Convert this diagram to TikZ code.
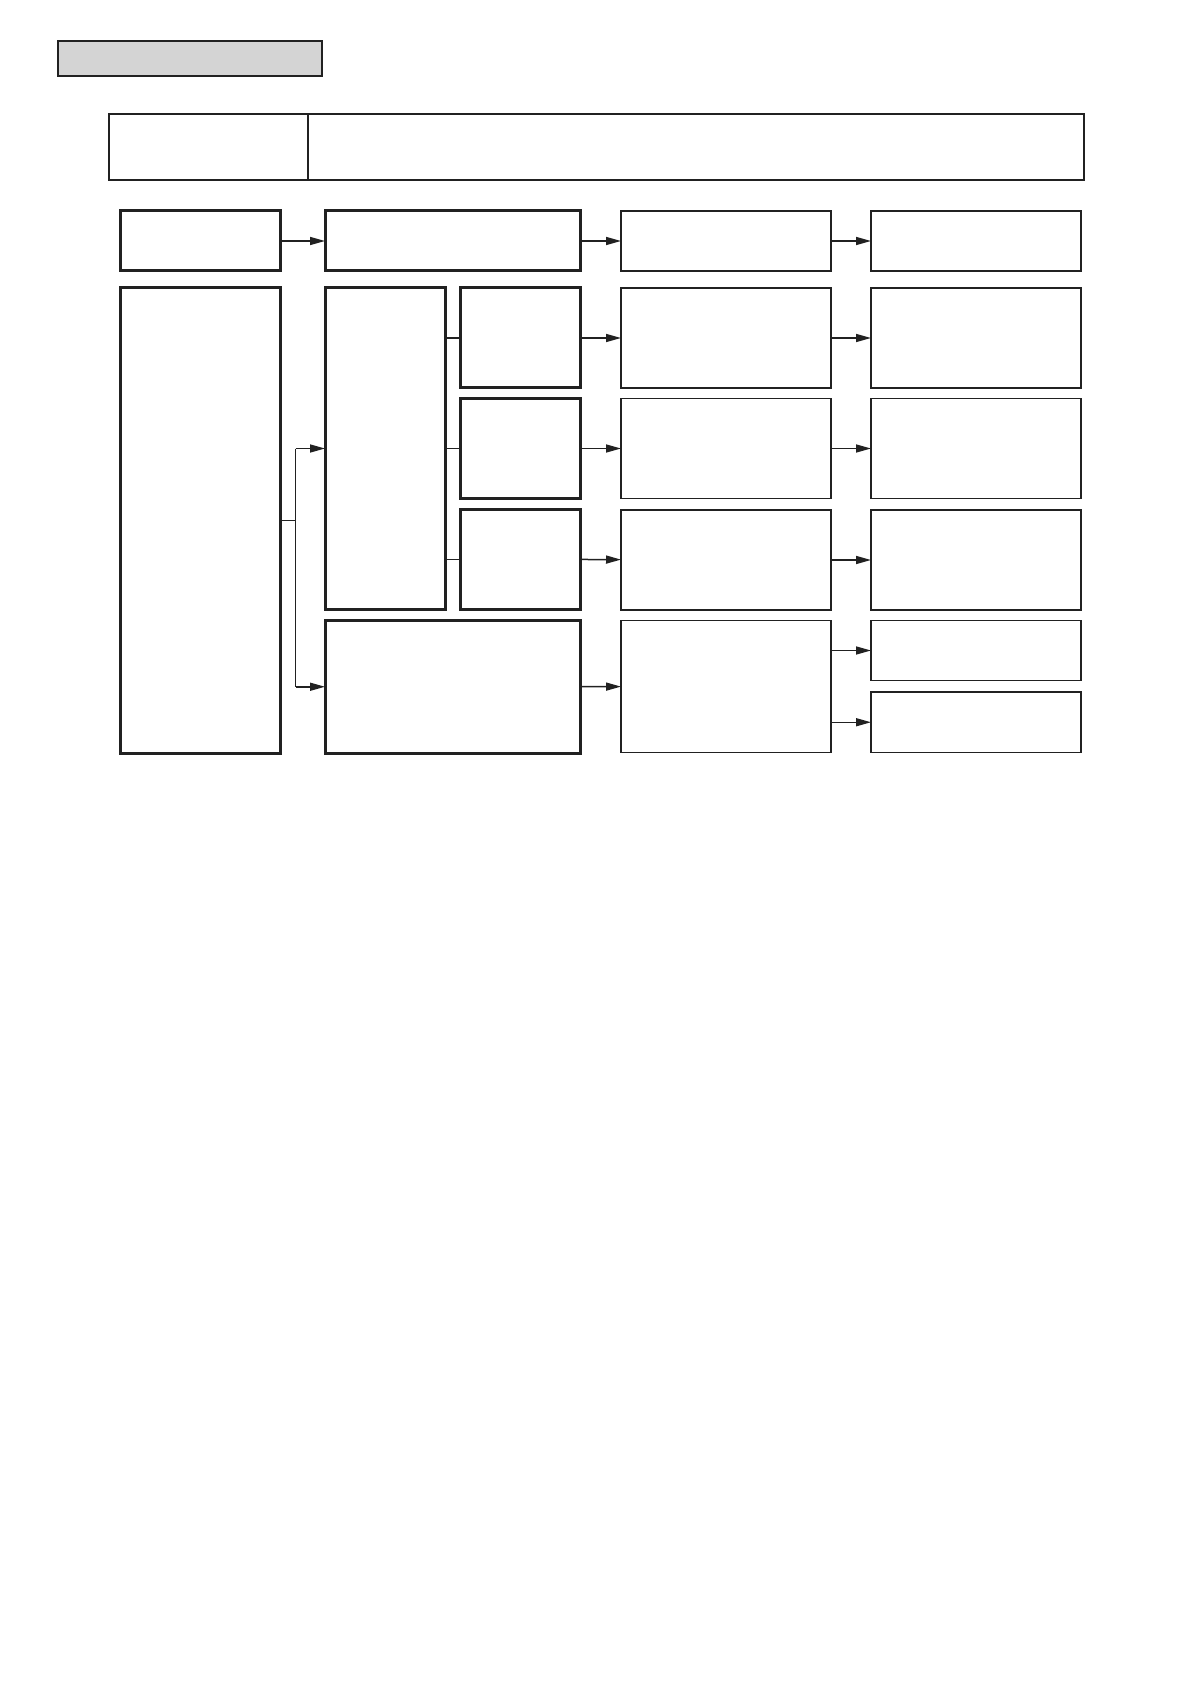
\documentclass[tikz,border=0pt]{standalone}
\usetikzlibrary{fit,arrows.meta}
\tikzset{
  box/.style={draw=black!87, inner sep=0pt, outer sep=0pt},
  thk/.style={box, line width=1.5pt},
  thn/.style={box, line width=0.9pt},
  arr/.style={line width=0.75pt, draw=black!87, -{Triangle[length=7.5pt,width=4pt]}},
  lnk/.style={line width=0.75pt, draw=black!87}
}
\begin{document}
\begin{tikzpicture}[x=0.5pt,y=-0.5pt]
  \useasboundingbox (0,0) rectangle (1191,1684);
  \node[box, line width=1.1pt, fill=black!17, fit={(57.7,41) (322,76)}] (title) {};
  \node[thn, fit={(108.7,113.7) (307.7,180)}] (hdl) {};
  \node[thn, fit={(307.7,113.7) (1084.3,180)}] (hdr) {};
  % first row
  \node[thk, fit={(120,211) (280.5,271)}] (a) {};
  \node[thk, fit={(325,211) (580,271)}] (b) {};
  \node[thn, fit={(621,211) (831,271)}] (c) {};
  \node[thn, fit={(871,211) (1081,271)}] (d) {};
  \draw[arr] (a) -- (b);
  \draw[arr] (b) -- (c);
  \draw[arr] (c) -- (d);
  % lower block
  \node[thk, fit={(120,288) (280.5,753)}] (L) {};
  \node[thk, fit={(325,288) (445.5,609)}] (T) {};
  \node[thk, fit={(325,620.5) (580,753)}] (W) {};
  \foreach \i/\t/\b in {1/288/388, 2/398.5/498.5, 3/509.5/609}
    \node[thk, fit={(460,\t) (580,\b)}] (s\i) {};
  \foreach \i/\t/\b in {1/288/388, 2/398.5/498.5, 3/510/610, 4/620.5/752.5}
    \node[thn, fit={(621,\t) (831,\b)}] (c\i) {};
  \foreach \i/\t/\b in {1/288/388, 2/398.5/498.5, 3/510/610, 4/620.5/680.5, 5/692/752.5}
    \node[thn, fit={(871,\t) (1081,\b)}] (d\i) {};
  \draw[lnk] (L.east) -- ++(15,0) coordinate (jn);
  \draw[lnk] (jn |- T.west) -- (jn |- W.west);
  \draw[arr] (jn |- T.west) -- (T.west);
  \draw[arr] (jn |- W.west) -- (W.west);
  \foreach \i in {1,2,3}{
    \draw[lnk] (T.east |- s\i.west) -- (s\i.west);
    \draw[arr] (s\i) -- (c\i);
    \draw[arr] (c\i) -- (d\i);
  }
  \draw[arr] (W) -- (c4);
  \draw[arr] (c4.east |- d4.west) -- (d4.west);
  \draw[arr] (c4.east |- d5.west) -- (d5.west);
\end{tikzpicture}
\end{document}
